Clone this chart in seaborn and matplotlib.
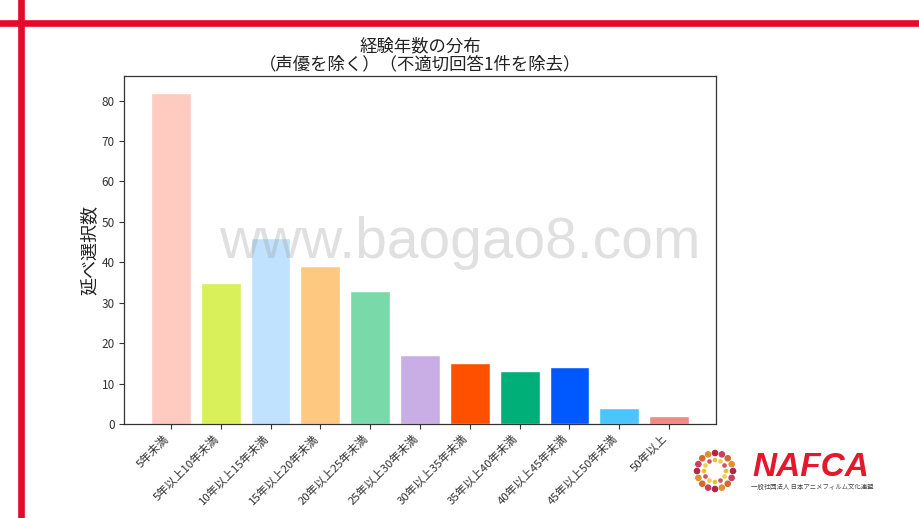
import numpy as np
import pandas as pd
import matplotlib
matplotlib.use("Agg")
import matplotlib.pyplot as plt
import seaborn as sns
from matplotlib.lines import Line2D
from matplotlib.patches import Ellipse

categories = ["5年未満", "5年以上10年未満", "10年以上15年未満", "15年以上20年未満",
              "20年以上25年未満", "25年以上30年未満", "30年以上35年未満", "35年以上40年未満",
              "40年以上45年未満", "45年以上50年未満", "50年以上"]
values = [82, 35, 46, 39, 33, 17, 15, 13, 14, 4, 2]
colors = ["#FFCABF", "#D9F05A", "#C0E2FF", "#FFC880", "#7AD9A8", "#C8AEE4",
          "#FF5000", "#00AE78", "#0058FF", "#4CC4FF", "#F08A86"]
title_text = "経験年数の分布\n（声優を除く）（不適切回答1件を除去）"
ylabel_text = "延べ選択数"

sns.set_theme(style="white")
plt.rcParams['font.family'] = ['Noto Sans CJK JP', 'DejaVu Sans']

df = pd.DataFrame({"cat": categories, "val": values})

W, H = 920, 518
fig = plt.figure(figsize=(9.2, 5.18), dpi=100)
ax = fig.add_axes([124/W, 1 - 424/H, 592/W, 348/H])
sns.barplot(data=df, x="cat", y="val", hue="cat", palette=colors, legend=False,
            width=0.8, ax=ax, saturation=1)
ax.set_xlim(-0.94, 10.94)
ax.set_ylim(0, 86.1)
ax.set_yticks([0, 10, 20, 30, 40, 50, 60, 70, 80])
ax.set_xlabel("")
ax.set_ylabel(ylabel_text, fontsize=13, color="#222222", labelpad=2)
ax.set_title(title_text, fontsize=12.5, color="#222222", linespacing=1.0, pad=5)
plt.setp(ax.get_xticklabels(), rotation=45, ha="right", fontsize=8.2, color="#333333")
plt.setp(ax.get_yticklabels(), fontsize=8.5, color="#333333")
ax.tick_params(axis="both", which="both", length=3.5, width=0.8, color="#333333",
               bottom=True, left=True, pad=3)
for s in ax.spines.values():
    s.set_color("#333333")
    s.set_linewidth(0.9)
    s.set_visible(True)

# watermark
fig.text(460/W, 1 - 243/H, "www.baogao8.com", fontsize=41, color="#9a9a9a", alpha=0.3,
         ha="center", va="center", family=["Liberation Sans", "DejaVu Sans"], zorder=10)

# red frame lines
fig.add_artist(Line2D([0, 1], [1 - 23/H, 1 - 23/H], color="#E30B2A", lw=4.8,
                      transform=fig.transFigure))
fig.add_artist(Line2D([21/W, 21/W], [0, 1], color="#E30B2A", lw=4.8,
                      transform=fig.transFigure))

# logo
fig.text(811/W, 1 - 467/H, "NAFCA", fontsize=24, color="#E3182D", fontweight="bold",
         style="italic", ha="center", va="center", family=["Liberation Sans", "DejaVu Sans"])
fig.text(812/W, 1 - 487/H, "一般社団法人 日本アニメフィルム文化連盟", fontsize=4.6,
         color="#444444", ha="center", va="center")
cx, cy = 715, 471
for r, n, dr, cols in [(18, 16, 2.6, ["#B02848", "#C84060", "#D06A30", "#E09030"]),
                       (11, 12, 1.6, ["#E8C030", "#F0D040", "#D85060"])]:
    for i, a in enumerate(np.linspace(0, 2*np.pi, n, endpoint=False)):
        fig.add_artist(Ellipse(((cx + r*np.cos(a))/W, 1 - (cy + r*np.sin(a))/H),
                               2*dr/W, 2*dr/H, transform=fig.transFigure,
                               color=cols[i % len(cols)]))

fig.savefig("out.png", dpi=100)
